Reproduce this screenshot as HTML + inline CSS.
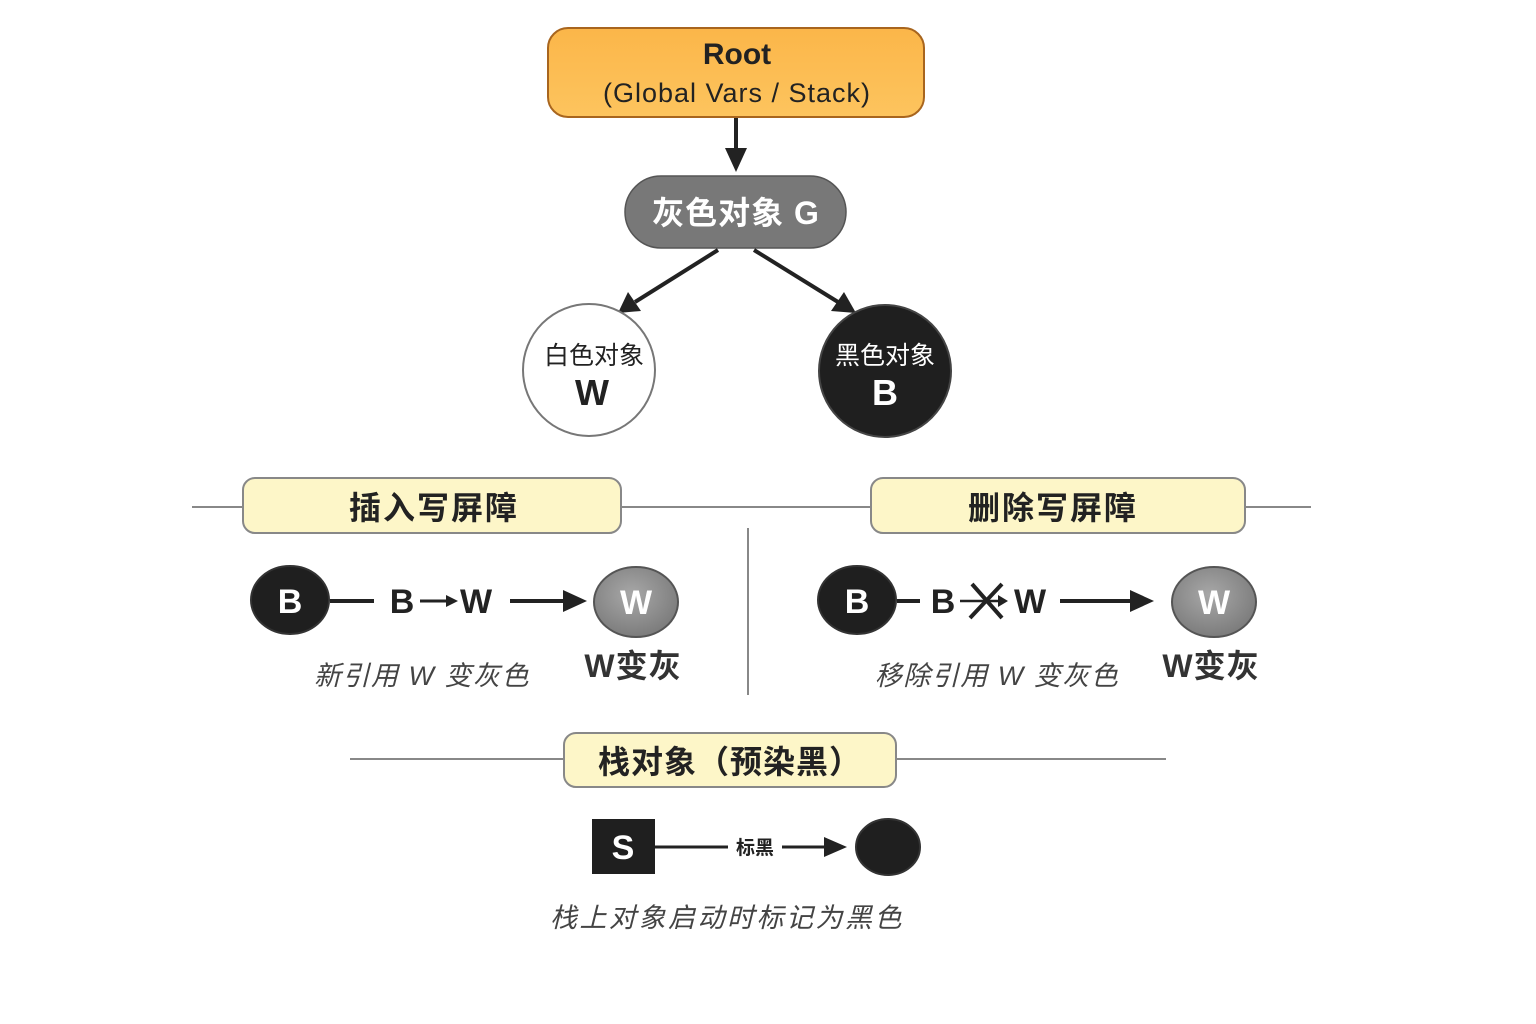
<!DOCTYPE html>
<html><head><meta charset="utf-8"><style>
html,body{margin:0;padding:0;background:#fff;}
svg{display:block;font-family:"Liberation Sans","Noto Sans CJK SC",sans-serif;}
</style></head><body>
<svg width="1536" height="1024" viewBox="0 0 1536 1024" xmlns="http://www.w3.org/2000/svg">
<defs>
<linearGradient id="og" x1="0" y1="0" x2="0" y2="1"><stop offset="0" stop-color="#fbb649"/><stop offset="1" stop-color="#fdc45e"/></linearGradient>
<radialGradient id="gw" cx="0.45" cy="0.4" r="0.6"><stop offset="0" stop-color="#a8a8a8"/><stop offset="1" stop-color="#7c7c7c"/></radialGradient>
</defs>
<rect width="1536" height="1024" fill="#fff"/>
<rect x="548" y="28" width="376" height="89" rx="20" fill="url(#og)" stroke="#a8651e" stroke-width="2"/>
<text x="737" y="64" font-size="30" font-weight="bold" text-anchor="middle" fill="#222">Root</text>
<text x="737" y="102" font-size="27" text-anchor="middle" fill="#222" letter-spacing="1">(Global Vars / Stack)</text>
<line x1="736" y1="118" x2="736" y2="150" stroke="#222" stroke-width="4"/>
<path d="M725,148 L747,148 L736,172 z" fill="#222"/>
<rect x="625" y="176" width="221" height="72" rx="36" fill="#787878" stroke="#555" stroke-width="1.5"/>
<text x="736" y="224" font-size="32" font-weight="bold" text-anchor="middle" fill="#fff" letter-spacing="1">灰色对象 G</text>
<line x1="718" y1="250" x2="635" y2="302" stroke="#222" stroke-width="4"/>
<path d="M618,313 L628,292 L641,311 z" fill="#222"/>
<line x1="754" y1="250" x2="838" y2="302" stroke="#222" stroke-width="4"/>
<path d="M856,313 L831,311 L844,292 z" fill="#222"/>
<circle cx="589" cy="370" r="66" fill="#fff" stroke="#777" stroke-width="2"/>
<text x="594" y="364" font-size="25" text-anchor="middle" fill="#222">白色对象</text>
<text x="592" y="405" font-size="36" font-weight="bold" text-anchor="middle" fill="#222">W</text>
<circle cx="885" cy="371" r="66" fill="#1f1f1f" stroke="#444" stroke-width="2"/>
<text x="885" y="364" font-size="25" text-anchor="middle" fill="#fff">黑色对象</text>
<text x="885" y="405" font-size="36" font-weight="bold" text-anchor="middle" fill="#fff">B</text>
<line x1="192" y1="507" x2="1311" y2="507" stroke="#888" stroke-width="2"/>
<rect x="243" y="478" width="378" height="55" rx="12" fill="#fdf6c8" stroke="#888" stroke-width="2"/>
<text x="434" y="519" font-size="32" font-weight="bold" text-anchor="middle" fill="#222" letter-spacing="2">插入写屏障</text>
<rect x="871" y="478" width="374" height="55" rx="12" fill="#fdf6c8" stroke="#888" stroke-width="2"/>
<text x="1053" y="519" font-size="32" font-weight="bold" text-anchor="middle" fill="#222" letter-spacing="2">删除写屏障</text>
<line x1="748" y1="528" x2="748" y2="695" stroke="#888" stroke-width="2"/>
<ellipse cx="290" cy="600" rx="39" ry="34" fill="#1f1f1f" stroke="#333" stroke-width="2"/>
<text x="290" y="613" font-size="34" font-weight="bold" text-anchor="middle" fill="#fff">B</text>
<line x1="330" y1="601" x2="374" y2="601" stroke="#222" stroke-width="4"/>
<text x="402" y="613" font-size="34" font-weight="bold" text-anchor="middle" fill="#222">B</text>
<line x1="420" y1="601" x2="448" y2="601" stroke="#222" stroke-width="3"/>
<path d="M446,595 L458,601 L446,607 z" fill="#222"/>
<text x="476" y="613" font-size="34" font-weight="bold" text-anchor="middle" fill="#222">W</text>
<line x1="510" y1="601" x2="565" y2="601" stroke="#222" stroke-width="4"/>
<path d="M563,590 L587,601 L563,612 z" fill="#222"/>
<ellipse cx="636" cy="602" rx="42" ry="35" fill="url(#gw)" stroke="#555" stroke-width="2"/>
<text x="636" y="614" font-size="34" font-weight="bold" text-anchor="middle" fill="#fff">W</text>
<text x="422" y="685" font-size="27" font-style="italic" text-anchor="middle" fill="#444" letter-spacing="1.5">新引用 W 变灰色</text>
<text x="633" y="677" font-size="32" font-weight="bold" text-anchor="middle" fill="#333" letter-spacing="1">W变灰</text>
<ellipse cx="857" cy="600" rx="39" ry="34" fill="#1f1f1f" stroke="#333" stroke-width="2"/>
<text x="857" y="613" font-size="34" font-weight="bold" text-anchor="middle" fill="#fff">B</text>
<line x1="897" y1="601" x2="920" y2="601" stroke="#222" stroke-width="4"/>
<text x="943" y="613" font-size="34" font-weight="bold" text-anchor="middle" fill="#222">B</text>
<line x1="960" y1="601" x2="1000" y2="601" stroke="#222" stroke-width="2.5"/>
<path d="M998,595 L1008,601 L998,607 z" fill="#222"/>
<path d="M972,584 L1002,618 M970,618 L1002,584" stroke="#222" stroke-width="4"/>
<text x="1030" y="613" font-size="34" font-weight="bold" text-anchor="middle" fill="#222">W</text>
<line x1="1060" y1="601" x2="1132" y2="601" stroke="#222" stroke-width="4"/>
<path d="M1130,590 L1154,601 L1130,612 z" fill="#222"/>
<ellipse cx="1214" cy="602" rx="42" ry="35" fill="url(#gw)" stroke="#555" stroke-width="2"/>
<text x="1214" y="614" font-size="34" font-weight="bold" text-anchor="middle" fill="#fff">W</text>
<text x="997" y="685" font-size="27" font-style="italic" text-anchor="middle" fill="#444" letter-spacing="1.5">移除引用 W 变灰色</text>
<text x="1211" y="677" font-size="32" font-weight="bold" text-anchor="middle" fill="#333" letter-spacing="1">W变灰</text>
<line x1="350" y1="759" x2="1166" y2="759" stroke="#888" stroke-width="2"/>
<rect x="564" y="733" width="332" height="54" rx="12" fill="#fdf6c8" stroke="#888" stroke-width="2"/>
<text x="730" y="773" font-size="32" font-weight="bold" text-anchor="middle" fill="#222" letter-spacing="1">栈对象（预染黑）</text>
<rect x="592" y="819" width="63" height="55" fill="#1f1f1f"/>
<text x="623" y="859" font-size="34" font-weight="bold" text-anchor="middle" fill="#fff">S</text>
<line x1="655" y1="847" x2="728" y2="847" stroke="#222" stroke-width="3"/>
<text x="755" y="854" font-size="19" font-weight="bold" text-anchor="middle" fill="#222">标黑</text>
<line x1="782" y1="847" x2="828" y2="847" stroke="#222" stroke-width="3"/>
<path d="M824,837 L847,847 L824,857 z" fill="#222"/>
<ellipse cx="888" cy="847" rx="32" ry="28" fill="#1f1f1f" stroke="#333" stroke-width="2"/>
<text x="727" y="927" font-size="27" font-style="italic" text-anchor="middle" fill="#444" letter-spacing="2.5">栈上对象启动时标记为黑色</text>
</svg>
</body></html>
